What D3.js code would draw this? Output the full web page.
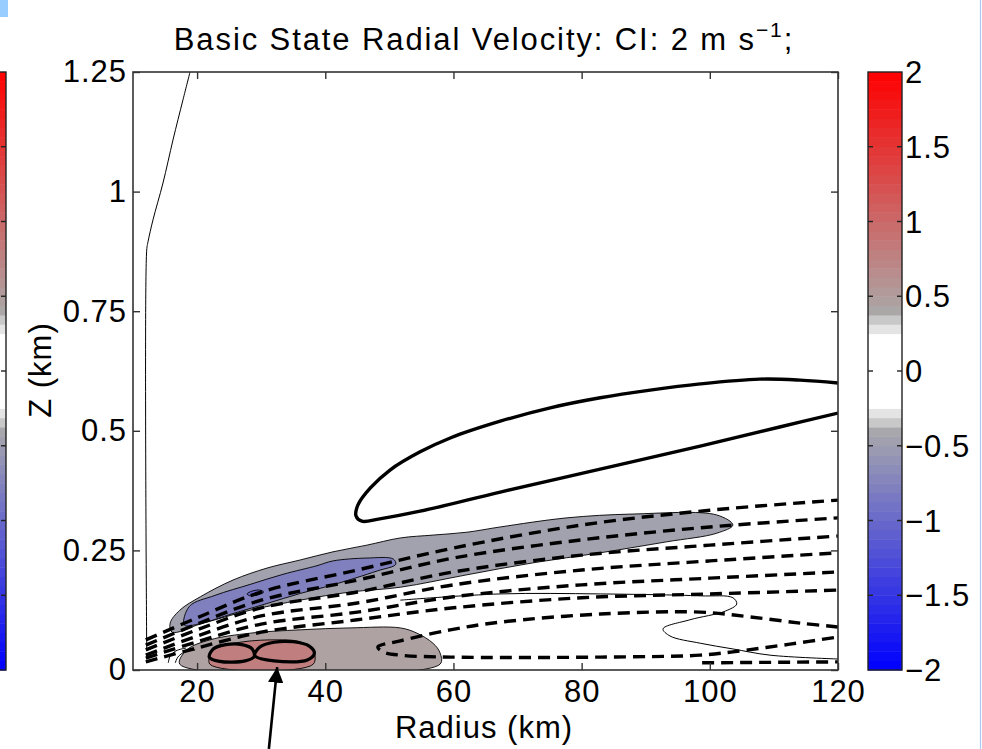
<!DOCTYPE html>
<html>
<head>
<meta charset="utf-8">
<script src="https://cdn.jsdelivr.net/npm/d3@7"></script>
<style>
body{margin:0;background:#fff;}
svg text{font-family:"Liberation Sans",Arial,Helvetica,sans-serif;fill:#000;letter-spacing:1px;}
</style>
</head>
<body>
<svg id="chart" width="982" height="749"></svg>
<script>
// ticks
const xTicks = [20, 40, 60, 80, 100, 120];
const yTicks = [0, 0.25, 0.5, 0.75, 1, 1.25];
const yTickLabels = ["0", "0.25", "0.5", "0.75", "1", "1.25"];
const cbTicks = [-2, -1.5, -1, -0.5, 0, 0.5, 1, 1.5, 2];
const cbTickLabels = ["\u22122", "\u22121.5", "\u22121", "\u22120.5", "0", "0.5", "1", "1.5", "2"];

// shaded regions, [radius km, z km], with shading level (m/s)
const grayBand = [[16.1,0.079],[15.8,0.098],[17.3,0.125],[20.5,0.153],[25.6,0.188],[30.9,0.213],[36.1,0.230],[41.2,0.247],[46.5,0.261],[51.7,0.276],[56.8,0.282],[62.1,0.288],[67.3,0.299],[77.7,0.318],[88.0,0.326],[101.1,0.324],[103.6,0.303],[101.1,0.286],[93.3,0.268],[82.9,0.245],[72.4,0.224],[62.1,0.199],[51.7,0.173],[43.9,0.163],[36.1,0.146],[28.3,0.125],[20.5,0.096]];
const blueRegion = [[18.0,0.094],[18.8,0.133],[22.8,0.156],[28.3,0.179],[33.4,0.200],[38.7,0.218],[41.2,0.228],[46.5,0.234],[50.6,0.232],[51.0,0.221],[48.1,0.207],[41.2,0.178],[36.1,0.160],[30.9,0.139],[25.6,0.118],[20.5,0.097]];
const darkBlueSpot = [[27.8,0.159],[28.6,0.165],[29.8,0.167],[30.4,0.163],[29.5,0.157],[28.3,0.155]];
const brownRegion = [[17.3,0.012],[18.4,0.042],[22.0,0.063],[28.3,0.077],[36.1,0.084],[43.9,0.088],[51.7,0.088],[54.3,0.077],[56.8,0.056],[57.9,0.036],[57.9,0.012]];
const redRegion = [[22.0,0.012],[22.3,0.038],[23.6,0.048],[27.2,0.059],[32.5,0.063],[36.1,0.059],[38.1,0.042],[38.1,0.012]];
const shadeLevels = [-0.45, -0.78, -1.0, 0.45, 0.8];

// contour lines (CI 2 m/s): positive solid, negative dashed
const outflowLoop = [[120,0.600],[114.1,0.606],[107.8,0.608],[98.5,0.598],[90.7,0.585],[82.9,0.569],[75.1,0.548],[67.3,0.520],[59.5,0.485],[54.8,0.456],[50.1,0.418],[47.0,0.380],[45.1,0.345],[44.8,0.322],[45.7,0.311],[48.5,0.316],[54.8,0.332],[67.3,0.372],[82.9,0.420],[98.5,0.468],[110.9,0.508],[120,0.537]];
const surfaceLoopA = [[21.9,0.027],[22.6,0.045],[24.5,0.053],[27.0,0.053],[28.6,0.044],[28.9,0.028],[27.5,0.019],[23.5,0.018]];
const surfaceLoopB = [[29.0,0.030],[29.8,0.048],[32.0,0.058],[35.0,0.059],[37.5,0.050],[38.3,0.035],[37.2,0.021],[32.0,0.019]];

const fanRadius = [12.0, 20, 30, 45, 60, 80, 100, 120];
const inflow1 = [0.063, 0.109, 0.163, 0.209, 0.255, 0.303, 0.334, 0.355];
const inflow2 = [0.052, 0.096, 0.146, 0.188, 0.234, 0.272, 0.299, 0.318];
const inflow3 = [0.042, 0.084, 0.130, 0.163, 0.205, 0.240, 0.261, 0.280];
const inflow4 = [0.031, 0.071, 0.113, 0.140, 0.178, 0.209, 0.228, 0.245];
const inflow5 = [0.025, 0.059, 0.096, 0.121, 0.153, 0.178, 0.192, 0.205];
const inflow6 = [0.017, 0.046, 0.079, 0.105, 0.130, 0.151, 0.159, 0.167];
const inflowLoop = [[120,0.090],[114.1,0.098],[106.3,0.111],[98.5,0.121],[82.9,0.117],[67.3,0.100],[59.5,0.084],[51.7,0.061],[48.2,0.048],[49.0,0.038],[51.7,0.031],[59.5,0.027],[82.9,0.027],[98.5,0.031],[103.6,0.038],[112.5,0.054],[120,0.069]];
const inflowBottom = [[98.8,0.015],[120,0.017]];

// thin lines
const zeroLine = [[12.14,0.04],[12.14,0.878],[12.34,0.895],[13.12,0.941],[14.68,1.018],[16.24,1.108],[17.8,1.192],[18.9,1.25]];
const thinLoop = [[51.7,0.146],[67.3,0.159],[82.9,0.159],[98.5,0.155],[103.6,0.151],[104.2,0.138],[102.4,0.123],[96.9,0.105],[92.7,0.086],[93.8,0.071],[98.5,0.056],[103.6,0.044],[109.4,0.031],[120,0.023]];
const thinArcA = [[15.5,0.015],[15.8,0.029],[16.7,0.040],[18.3,0.046]];
const thinArcB = [[16.6,0.015],[17.0,0.027],[18.1,0.038],[19.7,0.042]];

// annotation arrow (tail, tip)
const arrowPts = [[31.2,-0.165],[32.5,0.006]];

const svg = d3.select("#chart");
const W = 982, H = 749;
const plot = {left: 133, right: 838, top: 72, bottom: 670};
const x = d3.scaleLinear().domain([10, 120]).range([plot.left, plot.right]);
const y = d3.scaleLinear().domain([0, 1.25]).range([plot.bottom, plot.top]);

// colormap: white core, light gray steps, gray -> red / blue
function cmap(v){
  const a = Math.abs(v);
  if (a < 0.25) return "#ffffff";
  if (a < 0.31) return "#e4e4e4";
  if (a < 0.375) return "#c8c8c8";
  const t = Math.min(1, (a - 0.375) / 1.625);
  const hi = Math.round(170 + 85 * t), lo = Math.round(170 * (1 - t));
  return v > 0 ? d3.rgb(hi, lo, lo).formatHex() : d3.rgb(lo, lo, hi).formatHex();
}

svg.append("defs").append("clipPath").attr("id", "clip")
  .append("rect").attr("x", plot.left).attr("y", plot.top)
  .attr("width", plot.right - plot.left).attr("height", plot.bottom - plot.top);

const line = d3.line().x(d => x(d[0])).y(d => y(d[1])).curve(d3.curveCatmullRom);
const area = d3.line().x(d => x(d[0])).y(d => y(d[1])).curve(d3.curveCatmullRomClosed);

const g = svg.append("g").attr("clip-path", "url(#clip)");

// filled shading
[grayBand, blueRegion, darkBlueSpot, brownRegion, redRegion].forEach((pts, i) => {
  g.append("path").attr("d", area(pts))
    .attr("fill", cmap(shadeLevels[i])).attr("stroke", "#000").attr("stroke-width", 0.9);
});

// thin lines
[zeroLine, thinLoop, thinArcA, thinArcB].forEach(pts => {
  g.append("path").attr("d", line(pts)).attr("fill", "none")
    .attr("stroke", "#000").attr("stroke-width", 1);
});

// dashed negative contours
const fans = [inflow1, inflow2, inflow3, inflow4, inflow5, inflow6]
  .map(zs => zs.map((z, i) => [fanRadius[i], z]));
[...fans, inflowLoop, inflowBottom].forEach(pts => {
  g.append("path").attr("d", line(pts)).attr("fill", "none")
    .attr("stroke", "#000").attr("stroke-width", 3.4)
    .attr("stroke-dasharray", "12,7");
});

// solid positive contours
g.append("path").attr("d", line(outflowLoop)).attr("fill", "none")
  .attr("stroke", "#000").attr("stroke-width", 3.4);
[surfaceLoopA, surfaceLoopB].forEach(pts => {
  g.append("path").attr("d", area(pts)).attr("fill", "none")
    .attr("stroke", "#000").attr("stroke-width", 3.2);
});

// axes (MATLAB style box with inward ticks)
const fs = 31;
const ax = svg.append("g");
ax.append("rect").attr("x", plot.left).attr("y", plot.top)
  .attr("width", plot.right - plot.left).attr("height", plot.bottom - plot.top)
  .attr("fill", "none").attr("stroke", "#333").attr("stroke-width", 1.6);

const xb = ax.append("g").attr("transform", `translate(0,${plot.bottom})`)
  .call(d3.axisBottom(x).tickValues(xTicks).tickSizeInner(-7).tickSizeOuter(0).tickPadding(10));
const xt = ax.append("g").attr("transform", `translate(0,${plot.top})`)
  .call(d3.axisTop(x).tickValues(xTicks).tickSizeInner(-7).tickSizeOuter(0).tickFormat(""));
const yl = ax.append("g").attr("transform", `translate(${plot.left},0)`)
  .call(d3.axisLeft(y).tickValues(yTicks).tickSizeInner(-7).tickSizeOuter(0).tickPadding(6)
    .tickFormat((d, i) => yTickLabels[i]));
const yr = ax.append("g").attr("transform", `translate(${plot.right},0)`)
  .call(d3.axisRight(y).tickValues(yTicks).tickSizeInner(-7).tickSizeOuter(0).tickFormat(""));
[xb, xt, yl, yr].forEach(a => {
  a.select(".domain").remove();
  a.selectAll("line").attr("stroke", "#333").attr("stroke-width", 1.4);
  a.selectAll("text").attr("font-family", "Liberation Sans, Arial, sans-serif").attr("font-size", fs);
});

// colorbar
function drawColorbar(x0, wid){
  const cb = svg.append("g");
  const cy = d3.scaleLinear().domain([-2, 2]).range([plot.bottom, plot.top]);
  const n = 64, step = 4 / n;
  cb.selectAll("rect.band").data(d3.range(n)).join("rect").attr("class", "band")
    .attr("x", x0).attr("width", wid)
    .attr("y", i => cy(-2 + (i + 1) * step)).attr("height", i => cy(-2 + i * step) - cy(-2 + (i + 1) * step) + 0.5)
    .attr("fill", i => cmap(-2 + (i + 0.5) * step));
  cb.append("rect").attr("x", x0).attr("y", plot.top).attr("width", wid)
    .attr("height", plot.bottom - plot.top).attr("fill", "none").attr("stroke", "#222").attr("stroke-width", 1.4);
  cb.selectAll("line.tl").data(cbTicks.slice(1, -1)).join("line")
    .attr("x1", x0).attr("x2", x0 + 5).attr("y1", d => cy(d)).attr("y2", d => cy(d)).attr("stroke", "#222").attr("stroke-width", 1.4);
  cb.selectAll("line.tr").data(cbTicks.slice(1, -1)).join("line")
    .attr("x1", x0 + wid - 5).attr("x2", x0 + wid).attr("y1", d => cy(d)).attr("y2", d => cy(d)).attr("stroke", "#222").attr("stroke-width", 1.4);
  return {cb, cy};
}
const main = drawColorbar(868, 34);
main.cb.selectAll("text").data(cbTicks).join("text")
  .attr("x", 905).attr("y", d => main.cy(d)).attr("dy", "0.36em")
  .attr("font-size", fs).text((d, i) => cbTickLabels[i]);
// clipped neighbour colorbar at the left edge
drawColorbar(-28, 34);

// titles
svg.append("text").attr("x", 484).attr("y", 50).attr("text-anchor", "middle").attr("font-size", fs)
  .style("letter-spacing", "1.9px")
  .html('Basic State Radial Velocity: CI: 2 m s<tspan dy="-13" font-size="21">\u22121</tspan><tspan dy="13">;</tspan>');
svg.append("text").attr("x", 484).attr("y", 738).attr("text-anchor", "middle").attr("font-size", fs)
  .text("Radius (km)");
svg.append("text").attr("transform", "translate(51,370) rotate(-90)").attr("text-anchor", "middle")
  .attr("font-size", fs).text("Z (km)");

// arrow annotation
svg.append("defs").append("marker").attr("id", "head").attr("viewBox", "0 0 10 10")
  .attr("refX", 10).attr("refY", 5).attr("markerWidth", 6).attr("markerHeight", 6)
  .attr("orient", "auto").attr("markerUnits", "strokeWidth")
  .append("path").attr("d", "M0,0L10,5L0,10Z").attr("fill", "#000");
svg.append("line")
  .attr("x1", x(arrowPts[0][0])).attr("y1", y(arrowPts[0][1]))
  .attr("x2", x(arrowPts[1][0])).attr("y2", y(arrowPts[1][1]))
  .attr("stroke", "#000").attr("stroke-width", 2.6).attr("marker-end", "url(#head)");

// window chrome bits
svg.append("rect").attr("x", 0).attr("y", 0).attr("width", 8).attr("height", 17).attr("fill", "#99ccff");
svg.append("line").attr("x1", 980.5).attr("x2", 980.5).attr("y1", 0).attr("y2", H).attr("stroke", "#a8c8f0").attr("stroke-width", 1.2);
</script>
</body>
</html>
